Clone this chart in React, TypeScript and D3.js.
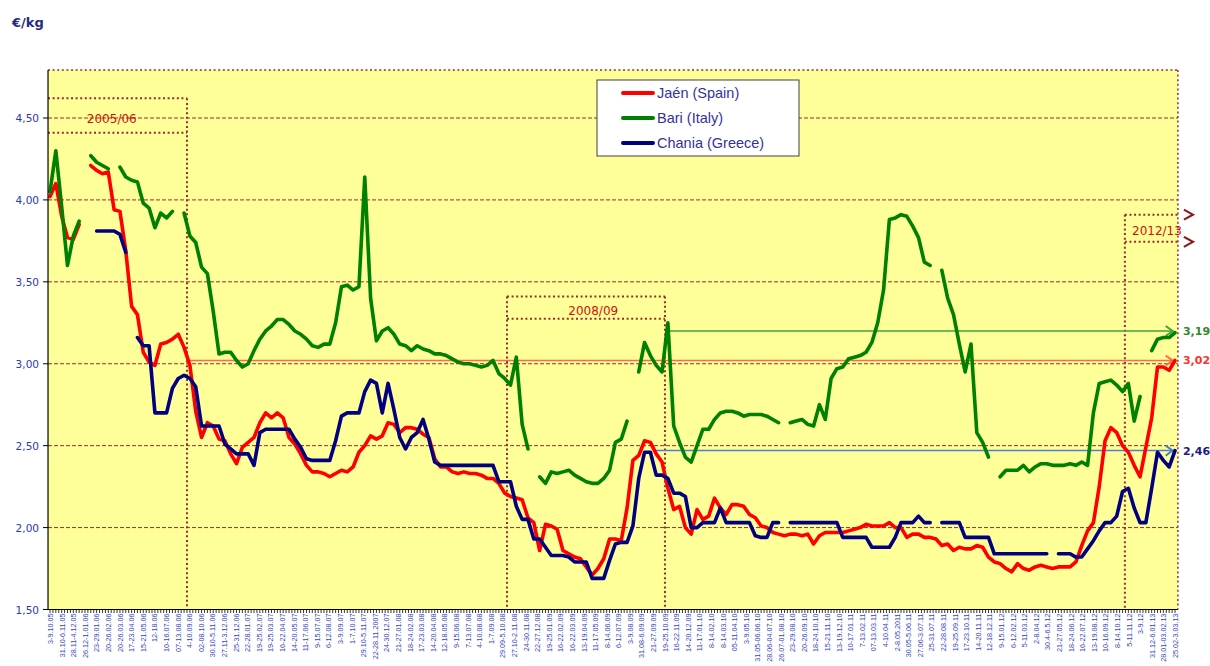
import React from "react";
import * as d3 from "d3";

// ---------- DATA ----------
const weekLabels: string[] = [
  "3-9.10.05", "31.10-6.11.05", "28.11-4.12.05", "26.12-1.01.06", "23-29.01.06", "20-26.02.06",
  "20-26.03.06", "17-23.04.06", "15-21.05.06", "12-18.06", "10-16.07.06", "07-13.08.06",
  "4-10.09.06", "02-08.10.06", "30.10-5.11.06", "27.11-3.12.06", "25-31.12.06", "22-28.01.07",
  "19-25.02.07", "19-25.03.07", "16-22.04.07", "14-20.05.07", "11-17.06.07", "9-15.07.07",
  "6-12.08.07", "3-9.09.07", "1-7.10.07", "29.10-5.11.07", "22-28.11.2007", "24-30.12.07",
  "21-27.01.08", "18-24.02.08", "17-23.03.08", "14-20.04.08", "12-18.05.08", "9-15.06.08",
  "7-13.07.08", "4-10.08.08", "1-7.09.08", "29.09-5.10.08", "27.10-2.11.08", "24-30.11.08",
  "22-27.12.08", "19-25.01.09", "16-22.02.09", "16-22.03.09", "13-19.04.09", "11-17.05.09",
  "8-14.06.09", "6-12.07.09", "3-9.08.09", "31.08-6.09.09", "21-27.09.09", "19-25.10.09",
  "16-22.11.09", "14-20.12.09", "11-17.01.10", "8-14.02.10", "8-14.03.10", "05-11.04.10",
  "3-9.05.10", "31.05-06.06.10", "28.06-04.07.10", "26.07-01.08.10", "23-29.08.10", "20-26.09.10",
  "18-24.10.10", "15-21.11.10", "13-19.12.10", "10-17.01.11", "7-13.02.11", "07-13.03.11",
  "4-10.04.11", "2-8.05.2011", "30.05-5.06.11", "27.06-3.07.11", "25-31.07.11", "22-28.08.11",
  "19-25.09.11", "17-23.10.11", "14-20.11.11", "12-18.12.11", "9-15.01.12", "6-12.02.12",
  "5-11.03.12", "2-8.04.12", "30.4-6.5.12", "21-27.05.12", "18-24.06.12", "16-22.07.12",
  "13-19.08.12", "10-16.09.12", "8-14.10.12", "5-11.11.12", "3-9.12", "31.12-6.01.13",
  "28.01-03.02.13", "25.02-3.03.13",
];

// one value every two weeks, null = no quotation
const jaen: (number | null)[] = [
  4.02, 4.10, 3.90, 3.77, 3.76, 3.85, null, 4.21, 4.18, 4.16,
  4.17, 3.94, 3.93, 3.69, 3.35, 3.30, 3.07, 3.01, 2.99, 3.12,
  3.13, 3.15, 3.18, 3.10, 2.99, 2.71, 2.55, 2.64, 2.62, 2.54,
  2.53, 2.45, 2.39, 2.49, 2.52, 2.55, 2.64, 2.70, 2.67, 2.70,
  2.67, 2.55, 2.51, 2.45, 2.38, 2.34, 2.34, 2.33, 2.31, 2.33,
  2.35, 2.34, 2.37, 2.46, 2.50, 2.56, 2.54, 2.56, 2.64, 2.63,
  2.58, 2.61, 2.61, 2.60, 2.57, 2.55, 2.42, 2.37, 2.37, 2.34,
  2.33, 2.34, 2.33, 2.33, 2.32, 2.30, 2.30, 2.27, 2.21, 2.19,
  2.18, 2.17, 2.06, 2.03, 1.86, 2.02, 2.01, 1.99, 1.86, 1.84,
  1.82, 1.81, 1.76, 1.71, 1.75, 1.81, 1.93, 1.93, 1.92, 2.12,
  2.41, 2.44, 2.53, 2.52, 2.45, 2.40, 2.24, 2.11, 2.13, 2.00,
  1.96, 2.11, 2.05, 2.07, 2.18, 2.12, 2.08, 2.14, 2.14, 2.13,
  2.08, 2.06, 2.01, 2.00, 1.97, 1.96, 1.95, 1.96, 1.96, 1.95,
  1.96, 1.90, 1.95, 1.97, 1.97, 1.97, 1.97, 1.98, 1.99, 2.00,
  2.02, 2.01, 2.01, 2.01, 2.03, 2.00, 2.00, 1.94, 1.96, 1.96,
  1.94, 1.94, 1.93, 1.89, 1.90, 1.86, 1.88, 1.87, 1.87, 1.89,
  1.88, 1.82, 1.79, 1.78, 1.75, 1.73, 1.78, 1.75, 1.74, 1.76,
  1.77, 1.76, 1.75, 1.76, 1.76, 1.76, 1.79, 1.89, 1.98, 2.03,
  2.25, 2.53, 2.61, 2.58, 2.50, 2.46, 2.38, 2.31, 2.49, 2.67,
  2.98, 2.98, 2.96, 3.02,
];

const bari: (number | null)[] = [
  4.05, 4.30, 3.96, 3.60, 3.78, 3.87, null, 4.27, 4.23, 4.21,
  4.19, null, 4.20, 4.14, 4.12, 4.11, 3.98, 3.95, 3.83, 3.92,
  3.89, 3.93, null, 3.92, 3.78, 3.74, 3.59, 3.55, 3.32, 3.06,
  3.07, 3.07, 3.02, 2.98, 3.00, 3.08, 3.15, 3.20, 3.23, 3.27,
  3.27, 3.24, 3.20, 3.18, 3.15, 3.11, 3.10, 3.12, 3.12, 3.25,
  3.47, 3.48, 3.45, 3.47, 4.14, 3.40, 3.14, 3.20, 3.22, 3.18,
  3.12, 3.11, 3.08, 3.11, 3.09, 3.08, 3.06, 3.06, 3.05, 3.03,
  3.01, 3.00, 3.00, 2.99, 2.98, 2.99, 3.02, 2.94, 2.91, 2.87,
  3.04, 2.63, 2.48, null, 2.31, 2.27, 2.34, 2.33, 2.34, 2.35,
  2.32, 2.30, 2.28, 2.27, 2.27, 2.30, 2.35, 2.52, 2.54, 2.65,
  null, 2.95, 3.13, 3.05, 2.99, 2.95, 3.25, 2.62, 2.52, 2.43,
  2.40, 2.50, 2.60, 2.60, 2.66, 2.70, 2.71, 2.71, 2.70, 2.68,
  2.69, 2.69, 2.69, 2.68, 2.66, 2.64, null, 2.64, 2.65, 2.66,
  2.63, 2.62, 2.75, 2.66, 2.91, 2.97, 2.98, 3.03, 3.04, 3.05,
  3.07, 3.13, 3.25, 3.45, 3.88, 3.89, 3.91, 3.90, 3.84, 3.77,
  3.62, 3.60, null, 3.57, 3.40, 3.30, 3.12, 2.95, 3.12, 2.58,
  2.52, 2.43, null, 2.31, 2.35, 2.35, 2.35, 2.38, 2.34, 2.37,
  2.39, 2.39, 2.38, 2.38, 2.38, 2.39, 2.38, 2.40, 2.38, 2.70,
  2.88, 2.89, 2.90, 2.87, 2.83, 2.88, 2.65, 2.80, null, 3.08,
  3.15, 3.16, 3.16, 3.19,
];

const chania: (number | null)[] = [
  null, null, null, null, null, null, null, null, 3.81, 3.81,
  3.81, 3.81, 3.79, 3.68, null, 3.16, 3.11, 3.11, 2.70, 2.70,
  2.70, 2.85, 2.91, 2.93, 2.91, 2.86, 2.62, 2.62, 2.62, 2.62,
  2.51, 2.48, 2.45, 2.45, 2.45, 2.38, 2.58, 2.60, 2.60, 2.60,
  2.60, 2.60, 2.54, 2.49, 2.42, 2.41, 2.41, 2.41, 2.41, 2.53,
  2.68, 2.70, 2.70, 2.70, 2.83, 2.90, 2.88, 2.70, 2.88, 2.72,
  2.55, 2.48, 2.55, 2.58, 2.66, 2.54, 2.40, 2.38, 2.38, 2.38,
  2.38, 2.38, 2.38, 2.38, 2.38, 2.38, 2.38, 2.28, 2.28, 2.28,
  2.13, 2.05, 2.05, 1.93, 1.93, 1.88, 1.83, 1.83, 1.83, 1.82,
  1.79, 1.79, 1.79, 1.69, 1.69, 1.69, 1.80, 1.90, 1.91, 1.91,
  2.01, 2.30, 2.46, 2.46, 2.32, 2.32, 2.30, 2.21, 2.21, 2.19,
  2.00, 2.00, 2.03, 2.03, 2.03, 2.12, 2.03, 2.03, 2.03, 2.03,
  2.03, 1.95, 1.94, 1.94, 2.03, 2.03, null, 2.03, 2.03, 2.03,
  2.03, 2.03, 2.03, 2.03, 2.03, 2.03, 1.94, 1.94, 1.94, 1.94,
  1.94, 1.88, 1.88, 1.88, 1.88, 1.94, 2.03, 2.03, 2.03, 2.07,
  2.03, 2.03, null, 2.03, 2.03, 2.03, 2.03, 1.94, 1.94, 1.94,
  1.94, 1.94, 1.84, 1.84, 1.84, 1.84, 1.84, 1.84, 1.84, 1.84,
  1.84, 1.84, null, 1.84, 1.84, 1.84, 1.82, 1.82, 1.87, 1.92,
  1.98, 2.03, 2.03, 2.07, 2.22, 2.24, 2.12, 2.03, 2.03, 2.24,
  2.46, 2.41, 2.37, 2.47,
];

const seriesNames = ["Jaén (Spain)", "Bari (Italy)", "Chania (Greece)"];
const seriesColors = ["#FF0000", "#008000", "#000080"];
const yTicks = [1.5, 2.0, 2.5, 3.0, 3.5, 4.0, 4.5];

// last-price reference lines: value, start index, label
const refValues = [3.2, 3.02, 2.47];
const refStarts = [105.5, 23.8, 103.8];
const refLabels = ["3,19", "3,02", "2,46"];
const refLineColors = ["#3FA33F", "#FF6A4D", "#4F7FD0"];
const refTextColors = ["#2E8B2E", "#FF3030", "#1A1A80"];

// marketing-season boxes (index units / value units)
const seasonLabels = ["2005/06", "2008/09", "2012/13"];
const seasonX0 = [-0.34, 78.4, 184.4];
const seasonX1 = [23.5, 105.5, 193.5];
const seasonTop = [4.62, 3.41, 3.91];
const seasonMid = [4.41, 3.275, 3.744];
const seasonTextY = [4.472, 3.297, 3.786];
const seasonTextX = [10.6, 93.2, 189.9];

// ---------- CHART ----------
const W = 1210;
const H = 666;
const X0 = 50;
const X1 = 1175;

export default function App() {
  const n = jaen.length;
  const x = d3.scaleLinear().domain([0, n - 1]).range([X0, X1]);
  const y = d3.scaleLinear().domain([1.5, 4.5]).range([609.5, 118]);
  const xl = d3.scalePoint<string>().domain(weekLabels).range([X0, X1]);

  const plotL = x(-0.34);
  const plotR = x(193.5);
  const plotT = y(4.793);
  const plotB = y(1.5);

  const line = d3
    .line<number | null>()
    .defined((d) => d != null)
    .x((_, i) => x(i))
    .y((d) => y(d as number));

  const series = [jaen, bari, chania];
  const fmt = (v: number) => d3.format(".2f")(v).replace(".", ",");
  const grid = "#9B2B2B";
  const dotted = "2,2.6";

  const weeklyTicks = d3.range(0, (n - 1) * 2 + 1).map((t) => x(t / 2));

  return (
    <svg width={W} height={H} style={{ display: "block", position: "absolute", left: 0, top: 0 }}>
      <rect x={0} y={0} width={W} height={H} fill="#FFFFFF" />
      <rect x={plotL} y={plotT} width={plotR - plotL} height={plotB - plotT} fill="#FFFF99" />

      {/* horizontal gridlines */}
      {yTicks.slice(1).map((t) => (
        <line key={t} x1={plotL} x2={plotR} y1={y(t)} y2={y(t)} stroke={grid} strokeWidth={1} strokeDasharray="4,2" />
      ))}

      {/* top and right border dotted */}
      <line x1={plotL} x2={plotR} y1={plotT} y2={plotT} stroke={grid} strokeWidth={1.5} strokeDasharray={dotted} />
      <line x1={plotR} x2={plotR} y1={plotT} y2={plotB} stroke={grid} strokeWidth={1.5} strokeDasharray={dotted} />

      {/* season boxes */}
      {seasonLabels.map((s, k) => (
        <g key={s}>
          <line x1={x(seasonX0[k])} x2={x(seasonX1[k])} y1={y(seasonTop[k])} y2={y(seasonTop[k])} stroke={grid} strokeWidth={2} strokeDasharray={dotted} />
          <line x1={x(seasonX0[k])} x2={x(seasonX1[k])} y1={y(seasonMid[k])} y2={y(seasonMid[k])} stroke={grid} strokeWidth={2} strokeDasharray={dotted} />
          {k !== 0 && (
            <line x1={x(seasonX0[k])} x2={x(seasonX0[k])} y1={y(seasonTop[k])} y2={plotB} stroke={grid} strokeWidth={2} strokeDasharray={dotted} />
          )}
          {k !== 2 && (
            <line x1={x(seasonX1[k])} x2={x(seasonX1[k])} y1={y(seasonTop[k])} y2={plotB} stroke={grid} strokeWidth={2} strokeDasharray={dotted} />
          )}
          <text x={x(seasonTextX[k])} y={y(seasonTextY[k])} textAnchor="middle" fontFamily="DejaVu Sans, Verdana, sans-serif" fontSize={12} fill="#D01010">
            {s}
          </text>
        </g>
      ))}

      {/* continuation chevrons of 2012/13 */}
      {[seasonTop[2], seasonMid[2]].map((v, k) => (
        <path
          key={k}
          d={`M${plotR + 6},${y(v) - 5} L${plotR + 15},${y(v)} L${plotR + 6},${y(v) + 5}`}
          fill="none"
          stroke="#8B1A1A"
          strokeWidth={2.2}
        />
      ))}

      {/* reference lines */}
      {refValues.map((v, k) => (
        <g key={k}>
          <line x1={x(refStarts[k])} x2={x(192.6)} y1={y(v)} y2={y(v)} stroke={refLineColors[k]} strokeWidth={1.5} />
          <path
            d={`M${x(192.6) - 7},${y(v) - 5} L${x(192.6)},${y(v)} L${x(192.6) - 7},${y(v) + 5}`}
            fill="none"
            stroke={refLineColors[k]}
            strokeWidth={2}
          />
        </g>
      ))}

      {/* series */}
      {series.map((s, k) => (
        <path key={k} d={line(s) || ""} fill="none" stroke={seriesColors[k]} strokeWidth={3.6} strokeLinejoin="round" strokeLinecap="round" />
      ))}

      {/* reference labels */}
      {refValues.map((v, k) => (
        <text key={k} x={plotR + 5} y={y(v) + 4} fontFamily="DejaVu Sans, Verdana, sans-serif" fontWeight="bold" fontSize={11} fill={refTextColors[k]}>
          {refLabels[k]}
        </text>
      ))}

      {/* axes */}
      <line x1={plotL} x2={plotL} y1={plotT} y2={plotB} stroke="#000" strokeWidth={1.2} />
      <line x1={plotL} x2={plotR} y1={plotB} y2={plotB} stroke="#000" strokeWidth={1.2} />
      {yTicks.map((t) => (
        <g key={t}>
          <line x1={plotL - 5} x2={plotL} y1={y(t)} y2={y(t)} stroke="#000" strokeWidth={1} />
          <text x={39} y={y(t) + 4} textAnchor="end" fontFamily="DejaVu Sans, Verdana, sans-serif" fontSize={10.5} fill="#2A3AB0">
            {fmt(t)}
          </text>
        </g>
      ))}
      {weeklyTicks.map((tx, i) => (
        <line key={i} x1={tx} x2={tx} y1={plotB} y2={plotB + 3.5} stroke="#000" strokeWidth={0.8} />
      ))}
      {weekLabels.map((l) => (
        <text
          key={l}
          transform={`translate(${(xl(l) as number) + 3},${plotB + 4}) rotate(-90)`}
          textAnchor="end"
          fontFamily="Liberation Sans, Arial, sans-serif"
          fontSize={7.2}
          fill="#3344BB"
        >
          {l}
        </text>
      ))}

      <text x={12} y={27} fontFamily="DejaVu Sans, Verdana, sans-serif" fontWeight="bold" fontSize={13} fill="#1F2A80">
        €/kg
      </text>

      {/* legend */}
      <g>
        <rect x={597} y={80} width={202} height={76} fill="#FFFFFF" stroke="#404040" strokeWidth={1} />
        {seriesNames.map((name, k) => (
          <g key={name}>
            <line x1={623} x2={653} y1={93 + k * 25} y2={93 + k * 25} stroke={seriesColors[k]} strokeWidth={4} strokeLinecap="round" />
            <text x={657} y={98 + k * 25} fontFamily="Liberation Sans, Arial, sans-serif" fontSize={14.5} fill="#333399">
              {name}
            </text>
          </g>
        ))}
      </g>
    </svg>
  );
}
